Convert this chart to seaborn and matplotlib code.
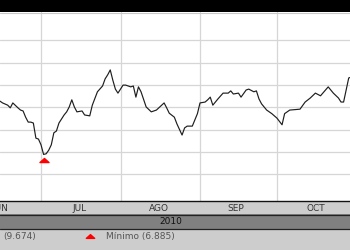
import matplotlib
matplotlib.use("Agg")
import matplotlib.pyplot as plt
from matplotlib.patches import Rectangle
from matplotlib.lines import Line2D
from matplotlib.path import Path
import matplotlib.transforms as mtransforms
import pandas as pd
import seaborn as sns

# ---- data ----
dates = [
    "2010-06-15", "2010-06-16", "2010-06-18", "2010-06-19", "2010-06-20", "2010-06-22",
    "2010-06-23", "2010-06-24", "2010-06-25", "2010-06-26", "2010-06-27", "2010-06-28",
    "2010-06-29", "2010-06-30", "2010-07-01", "2010-07-02", "2010-07-03", "2010-07-04",
    "2010-07-05", "2010-07-06", "2010-07-07", "2010-07-08", "2010-07-10", "2010-07-11",
    "2010-07-12", "2010-07-13", "2010-07-14", "2010-07-15", "2010-07-17", "2010-07-18",
    "2010-07-20", "2010-07-21", "2010-07-23", "2010-07-25", "2010-07-26", "2010-07-27",
    "2010-07-28", "2010-07-29", "2010-07-30", "2010-07-31", "2010-08-02", "2010-08-03",
    "2010-08-05", "2010-08-06", "2010-08-07", "2010-08-08", "2010-08-09", "2010-08-11",
    "2010-08-13", "2010-08-15", "2010-08-18", "2010-08-19", "2010-08-20", "2010-08-22",
    "2010-08-23", "2010-08-25", "2010-08-26", "2010-08-27", "2010-08-29", "2010-08-31",
    "2010-09-01", "2010-09-03", "2010-09-04", "2010-09-05", "2010-09-06", "2010-09-08",
    "2010-09-10", "2010-09-12", "2010-09-13", "2010-09-14", "2010-09-16", "2010-09-17",
    "2010-09-19", "2010-09-20", "2010-09-22", "2010-09-23", "2010-09-24", "2010-09-25",
    "2010-09-27", "2010-09-29", "2010-10-01", "2010-10-03", "2010-10-04", "2010-10-06",
    "2010-10-10", "2010-10-12", "2010-10-14", "2010-10-16", "2010-10-18", "2010-10-21",
    "2010-10-23", "2010-10-25", "2010-10-26", "2010-10-27", "2010-10-28", "2010-10-29",
    "2010-10-30",
]
values = [
    8.08, 8.04, 7.99, 7.93, 8.04, 7.93,
    7.88, 7.86, 7.72, 7.61, 7.61, 7.59,
    7.25, 7.23, 7.10, 6.885, 6.90, 6.98,
    7.10, 7.37, 7.41, 7.59, 7.77, 7.84,
    7.95, 8.11, 7.95, 7.84, 7.86, 7.77,
    7.75, 7.99, 8.29, 8.42, 8.58, 8.67,
    8.78, 8.55, 8.35, 8.26, 8.44, 8.44,
    8.40, 8.42, 8.17, 8.40, 8.29, 7.95,
    7.84, 7.88, 8.04, 7.93, 7.81, 7.72,
    7.57, 7.32, 7.48, 7.52, 7.52, 7.80,
    8.04, 8.06, 8.11, 8.17, 7.99, 8.13,
    8.26, 8.26, 8.31, 8.24, 8.26, 8.17,
    8.33, 8.35, 8.29, 8.31, 8.13, 8.02,
    7.88, 7.80, 7.70, 7.55, 7.80, 7.88,
    7.90, 8.06, 8.15, 8.26, 8.20, 8.40,
    8.26, 8.15, 8.06, 8.06, 8.33, 8.60,
    8.62,
]
month_labels = ["JUN", "JUL", "AGO", "SEP", "OCT"]
month_label_dates = ["2010-06-15", "2010-07-16", "2010-08-16", "2010-09-15", "2010-10-16"]
month_starts = ["2010-07-01", "2010-08-01", "2010-09-01", "2010-10-01"]
year_label = "2010"
max_label = "(9.674)"
min_label = "Mínimo (6.885)"
min_date = "2010-07-02"
min_value = 6.885
grid_values = [6.44, 6.94, 7.44, 7.94, 8.44, 8.94, 9.44]

df = pd.DataFrame({"date": pd.to_datetime(dates), "value": values})

sns.set_style("white")
plt.rcParams["font.family"] = ["DejaVu Sans"]

fig = plt.figure(figsize=(3.5, 2.5), dpi=100)
fig.patch.set_facecolor("white")

H = 250.0
W = 350.0
ax = fig.add_axes([0, (H - 201) / H, 1, (201 - 12) / H])
ax.set_facecolor("white")

sns.lineplot(data=df, x="date", y="value", ax=ax, color="#1e1e1e", linewidth=0.85)

ax.set_xlim(pd.Timestamp("2010-06-15"), pd.Timestamp("2010-10-29 12:00"))
ax.set_ylim(5.841, 10.079)

ax.set_yticks(grid_values)
ax.set_yticklabels([])
ax.tick_params(axis="y", length=0)

ax.set_xticks(pd.to_datetime(month_starts))
ax.set_xticklabels([])
ax.set_xticks(pd.to_datetime(month_label_dates), minor=True)
ax.set_xticklabels(month_labels, minor=True)
ax.tick_params(axis="x", which="both", length=0)
ax.tick_params(axis="x", which="minor", pad=2.5, labelsize=6.5, labelcolor="#333333")

ax.grid(True, which="major", color="#d6d6d6", linewidth=0.9)
ax.set_axisbelow(True)
ax.set_xlabel("")
ax.set_ylabel("")
for s in ["left", "right", "top"]:
    ax.spines[s].set_visible(False)
ax.spines["bottom"].set_color("#111111")
ax.spines["bottom"].set_linewidth(1.0)

# min marker (flattened red triangle just below the minimum)
tri = Path([(-1, -0.45), (1, -0.45), (0, 0.45), (-1, -0.45)],
           [Path.MOVETO, Path.LINETO, Path.LINETO, Path.CLOSEPOLY])
off = mtransforms.offset_copy(ax.transData, fig=fig, x=0, y=-6, units="dots")
ax.plot([pd.Timestamp(min_date)], [min_value], marker=tri, markersize=6.5,
        color="#ff0000", linestyle="none", transform=off, clip_on=False, zorder=5)

# ---- bands ----
def band(y_top_px, y_bot_px, color):
    fig.add_artist(Rectangle((0, (H - y_bot_px) / H), 1, (y_bot_px - y_top_px) / H,
                             transform=fig.transFigure, facecolor=color,
                             edgecolor="none", zorder=0))

def hline(y_px, color, lw=0.8):
    fig.add_artist(Line2D([0, 1], [(H - y_px) / H] * 2, transform=fig.transFigure,
                          color=color, linewidth=lw, zorder=3))

band(0, 12, "#000000")
hline(12.5, "#c8c8c8", 0.8)
band(202, 214, "#cdcdcd")
band(214, 228.5, "#808080")
band(228.5, 250, "#cdcdcd")
hline(214.5, "#222222", 0.9)
hline(228.5, "#222222", 0.9)

fig.text(171 / W, (H - 222) / H, year_label, ha="center", va="center",
         fontsize=6.5, color="#111111")

# legend strip
fig.text(3 / W, (H - 236.5) / H, max_label, ha="left", va="center",
         fontsize=6.5, color="#555555")
fig.add_artist(Line2D([89.5 / W], [(H - 236) / H], marker=tri, markersize=6,
                      color="#ff0000", linestyle="none", transform=fig.transFigure))
fig.text(106 / W, (H - 236.5) / H, min_label, ha="left", va="center",
         fontsize=6.5, color="#555555")

fig.savefig("out.png", dpi=100)
